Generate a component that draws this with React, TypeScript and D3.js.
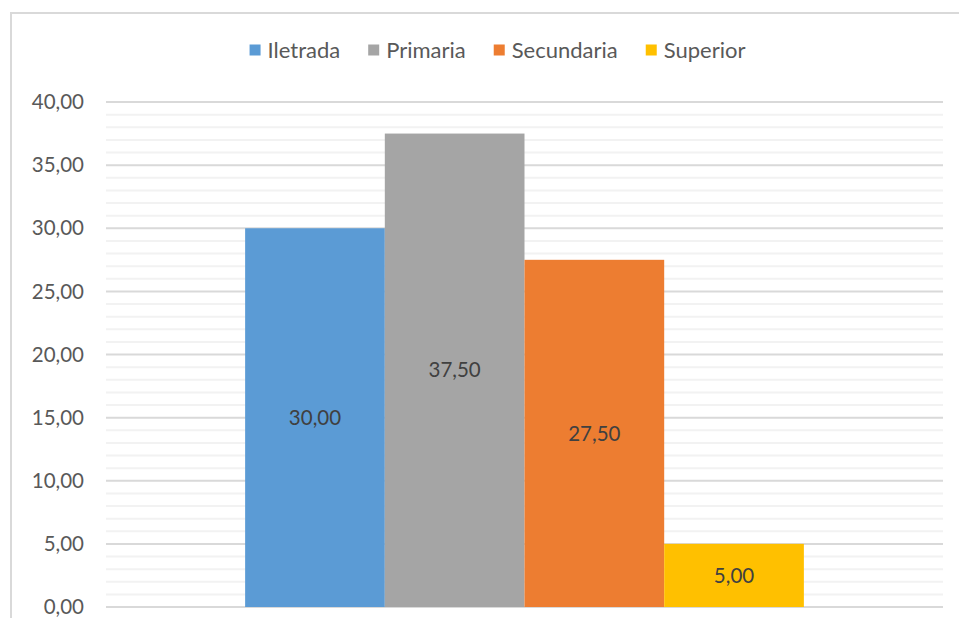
import React, { useEffect, useRef } from "react";
import * as d3 from "d3";

const categories: string[] = ["Total"];
const seriesNames: string[] = ["Iletrada", "Primaria", "Secundaria", "Superior"];
const seriesValues: number[] = [30.0, 37.5, 27.5, 5.0];
const seriesColors: string[] = ["#5B9BD5", "#A5A5A5", "#ED7D31", "#FFC000"];
const yTicks: number[] = [0, 5, 10, 15, 20, 25, 30, 35, 40];

const W = 959;
const H = 618;
const FONT = "Lato, 'Open Sans', sans-serif";

export default function App() {
  const ref = useRef<SVGSVGElement | null>(null);

  useEffect(() => {
    const svg = d3.select(ref.current);
    svg.selectAll("*").remove();

    const margin = { left: 106, right: 16, top: 102, bottom: 11 };
    const x0 = margin.left;
    const x1 = W - margin.right;
    const yBottom = H - margin.bottom;

    const y = d3.scaleLinear().domain([0, 40]).range([yBottom, margin.top]);
    const xCat = d3.scaleBand().domain(categories).range([x0, x1]).paddingInner(0).paddingOuter(0.249);
    const bandStart = xCat(categories[0])!;
    const xSer = d3.scaleBand().domain(seriesNames).range([bandStart, bandStart + xCat.bandwidth()]).padding(0);

    // chart border
    svg.append("rect")
      .attr("x", 11).attr("y", 13)
      .attr("width", W - 11 + 10).attr("height", H)
      .attr("fill", "white").attr("stroke", "#D9D9D9").attr("stroke-width", 2);

    // minor gridlines
    const minor = d3.range(0, 41, 1).filter((v) => v % 5 !== 0);
    svg.append("g").selectAll("line").data(minor).join("line")
      .attr("x1", x0).attr("x2", x1)
      .attr("y1", (d) => y(d)).attr("y2", (d) => y(d))
      .attr("stroke", "#F2F2F2").attr("stroke-width", 2);

    // major gridlines
    svg.append("g").selectAll("line").data(yTicks).join("line")
      .attr("x1", x0).attr("x2", x1)
      .attr("y1", (d) => y(d)).attr("y2", (d) => y(d))
      .attr("stroke", "#D9D9D9").attr("stroke-width", 2);

    // y tick labels
    const fmt = (v: number) => v.toFixed(2).replace(".", ",");
    svg.append("g").selectAll("text").data(yTicks).join("text")
      .attr("x", 84).attr("y", (d) => y(d))
      .attr("dy", "0.35em")
      .attr("text-anchor", "end")
      .attr("font-family", FONT).attr("font-size", 20.5)
      .attr("fill", "#595959")
      .text((d) => fmt(d));

    // bars
    const data = seriesNames.map((n, i) => ({ name: n, value: seriesValues[i], color: seriesColors[i] }));
    svg.append("g").selectAll("rect").data(data).join("rect")
      .attr("x", (d) => xSer(d.name)!)
      .attr("width", xSer.bandwidth())
      .attr("y", (d) => y(d.value))
      .attr("height", (d) => y(0) - y(d.value))
      .attr("fill", (d) => d.color);

    // data labels
    svg.append("g").selectAll("text").data(data).join("text")
      .attr("x", (d) => xSer(d.name)! + xSer.bandwidth() / 2)
      .attr("y", (d) => (y(d.value) + y(0)) / 2)
      .attr("dy", "0.35em")
      .attr("text-anchor", "middle")
      .attr("font-family", FONT).attr("font-size", 20.5)
      .attr("fill", "#404040")
      .text((d) => fmt(d.value));

    // legend
    const legendSize = 22;
    const canvas = document.createElement("canvas");
    const ctx = canvas.getContext("2d")!;
    ctx.font = `${legendSize}px ${FONT}`;
    const sq = 11;
    const gapSqText = 7;
    const gapItems = 28;
    const widths = seriesNames.map((n) => sq + gapSqText + ctx.measureText(n).width);
    const total = d3.sum(widths) + gapItems * (seriesNames.length - 1);
    const chartCenter = 497.5;
    let lx = chartCenter - total / 2;
    const ly = 50;
    const lg = svg.append("g");
    seriesNames.forEach((n, i) => {
      lg.append("rect").attr("x", lx).attr("y", ly - sq / 2).attr("width", sq).attr("height", sq).attr("fill", seriesColors[i]);
      lg.append("text").attr("x", lx + sq + gapSqText).attr("y", ly).attr("dy", "0.35em")
        .attr("font-family", FONT).attr("font-size", legendSize).attr("fill", "#595959").text(n);
      lx += widths[i] + gapItems;
    });
  }, []);

  return (
    <svg ref={ref} width={W} height={H} style={{ position: "absolute", left: 0, top: 0, background: "white" }} />
  );
}
